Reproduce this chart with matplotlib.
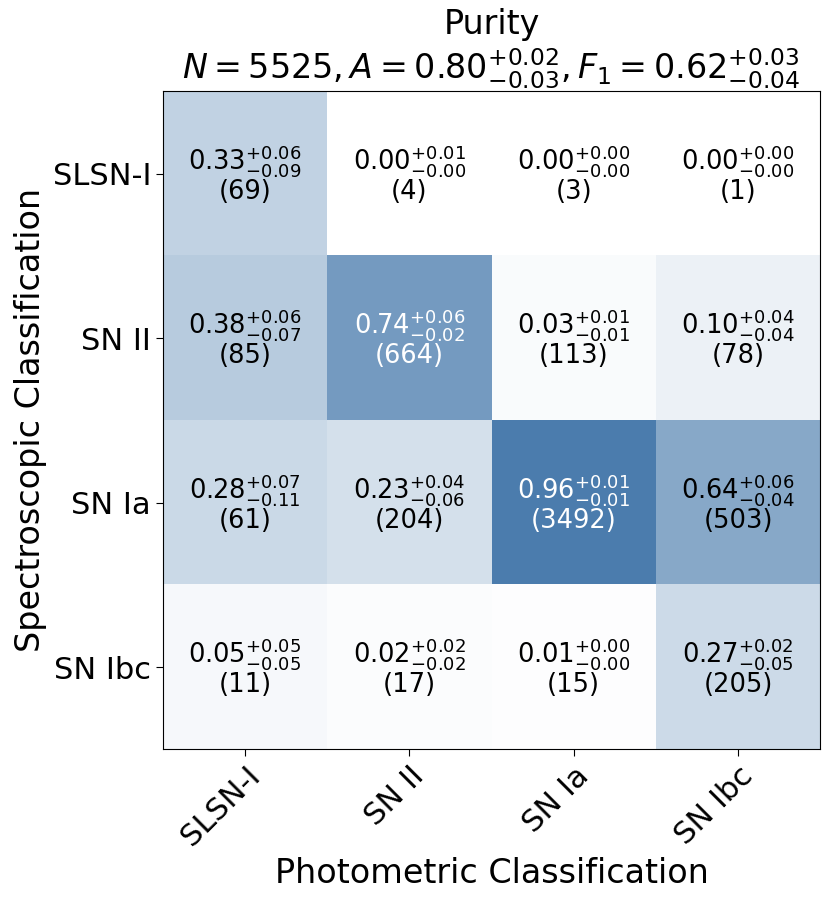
import numpy as np
import matplotlib
matplotlib.use("Agg")
import matplotlib.pyplot as plt
from matplotlib.colors import LinearSegmentedColormap

classes = ["SLSN-I", "SN II", "SN Ia", "SN Ibc"]
purity = np.array([
    [0.33, 0.00, 0.00, 0.00],
    [0.38, 0.74, 0.03, 0.10],
    [0.28, 0.23, 0.96, 0.64],
    [0.05, 0.02, 0.01, 0.27],
])
err_up = np.array([
    [0.06, 0.01, 0.00, 0.00],
    [0.06, 0.06, 0.01, 0.04],
    [0.07, 0.04, 0.01, 0.06],
    [0.05, 0.02, 0.00, 0.02],
])
err_lo = np.array([
    [0.09, 0.00, 0.00, 0.00],
    [0.07, 0.02, 0.01, 0.04],
    [0.11, 0.06, 0.01, 0.04],
    [0.05, 0.02, 0.00, 0.05],
])
counts = np.array([
    [69, 4, 3, 1],
    [85, 664, 113, 78],
    [61, 204, 3492, 503],
    [11, 17, 15, 205],
])

cmap = LinearSegmentedColormap.from_list("pur", ["#ffffff", "#4477aa"])

fig = plt.figure(figsize=(8.31, 9.05), dpi=100)
ax = fig.add_axes([0.196, 0.172, 0.791, 0.727])
ax.imshow(purity, cmap=cmap, vmin=0, vmax=1, aspect="auto")

for i in range(4):
    for j in range(4):
        v = purity[i, j]
        txt = r"$%.2f^{+%.2f}_{-%.2f}$" % (v, err_up[i, j], err_lo[i, j]) + "\n(%d)" % counts[i, j]
        ax.text(j, i, txt, ha="center", va="center", fontsize=18.5,
                color="white" if v > 0.7 else "black", linespacing=1.0)

ax.set_xticks(range(4))
ax.set_yticks(range(4))
ax.tick_params(length=5)
ax.set_xticklabels(classes, rotation=45, ha="right", rotation_mode="anchor", fontsize=22)
ax.set_yticklabels(classes, fontsize=22)
ax.set_xlabel("Photometric Classification", fontsize=24)
ax.set_ylabel("Spectroscopic Classification", fontsize=24)
ax.set_title("Purity\n" + r"$N = 5525, A = 0.80^{+0.02}_{-0.03}, F_1 = 0.62^{+0.03}_{-0.04}$",
             fontsize=24)

fig.savefig("out.png", dpi=100)
